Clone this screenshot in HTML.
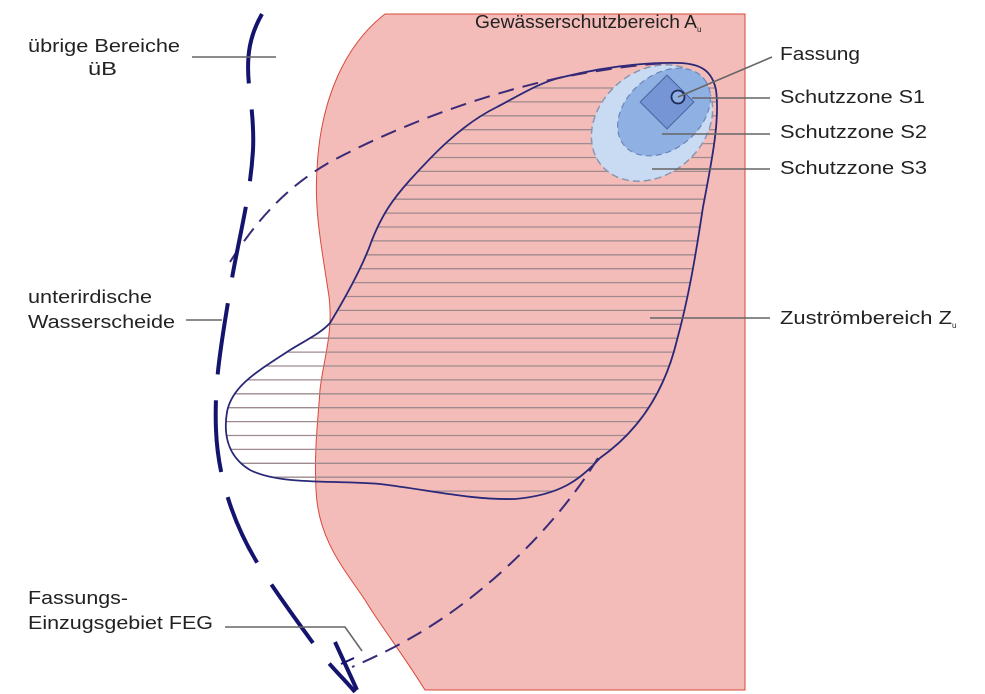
<!DOCTYPE html>
<html><head><meta charset="utf-8"><style>
html,body{margin:0;padding:0;background:#fff;}
svg{display:block;}
text{font-family:"Liberation Sans",Arial,sans-serif;font-size:18px;fill:#222;}
</style></head><body>
<svg width="985" height="694" viewBox="0 0 985 694" xmlns="http://www.w3.org/2000/svg">
<defs>
<clipPath id="blob"><path d="M330,323 C350,290 365,260 372,240 C382,215 392,200 410,180 C430,158 460,125 497,107 C520,95 540,82 563,77 C600,68 640,62 680,63 C700,64 712,70 716,90 C720,120 712,160 703,207 C695,260 688,300 677,340 C665,390 640,430 600,458 C580,480 560,495 515,499 C470,500 430,490 380,484 C330,480 280,485 250,470 C225,455 224,430 227,412 C232,385 260,370 290,350 C310,338 322,332 330,323 Z"/></clipPath>
</defs>
<path d="M385,14 L745,14 L745,690 L425,690 C400,650 380,625 365,600 C345,570 318,540 316,490 C314,450 318,420 320,390 C323,360 335,330 328,290 C322,250 314,210 317,170 C320,100 345,45 385,14 Z" fill="#f4bcb8" stroke="#d9483c" stroke-width="1"/>
<g clip-path="url(#blob)" stroke="#9e8a8e" stroke-width="1.3">
<line x1="200" x2="760" y1="88" y2="88"/><line x1="200" x2="760" y1="101.9" y2="101.9"/><line x1="200" x2="760" y1="115.8" y2="115.8"/><line x1="200" x2="760" y1="129.7" y2="129.7"/><line x1="200" x2="760" y1="143.6" y2="143.6"/><line x1="200" x2="760" y1="157.5" y2="157.5"/><line x1="200" x2="760" y1="171.4" y2="171.4"/><line x1="200" x2="760" y1="185.3" y2="185.3"/><line x1="200" x2="760" y1="199.2" y2="199.2"/><line x1="200" x2="760" y1="213.1" y2="213.1"/><line x1="200" x2="760" y1="227" y2="227"/><line x1="200" x2="760" y1="240.9" y2="240.9"/><line x1="200" x2="760" y1="254.8" y2="254.8"/><line x1="200" x2="760" y1="268.7" y2="268.7"/><line x1="200" x2="760" y1="282.6" y2="282.6"/><line x1="200" x2="760" y1="296.5" y2="296.5"/><line x1="200" x2="760" y1="310.4" y2="310.4"/><line x1="200" x2="760" y1="324.3" y2="324.3"/><line x1="200" x2="760" y1="338.2" y2="338.2"/><line x1="200" x2="760" y1="352.1" y2="352.1"/><line x1="200" x2="760" y1="366" y2="366"/><line x1="200" x2="760" y1="379.9" y2="379.9"/><line x1="200" x2="760" y1="393.8" y2="393.8"/><line x1="200" x2="760" y1="407.7" y2="407.7"/><line x1="200" x2="760" y1="421.6" y2="421.6"/><line x1="200" x2="760" y1="435.5" y2="435.5"/><line x1="200" x2="760" y1="449.4" y2="449.4"/><line x1="200" x2="760" y1="463.3" y2="463.3"/><line x1="200" x2="760" y1="477.2" y2="477.2"/><line x1="200" x2="760" y1="491.1" y2="491.1"/>
</g>
<ellipse cx="652" cy="123" rx="66" ry="52" transform="rotate(-40 652 123)" fill="#c9dbf3" stroke="#8a96b0" stroke-width="1.5" stroke-dasharray="7 4"/>
<ellipse cx="664" cy="112" rx="52" ry="37" transform="rotate(-40 664 112)" fill="#8fb0e3" stroke="#6b86b8" stroke-width="1.2" stroke-dasharray="6 4"/>
<rect x="648" y="83" width="38" height="38" transform="rotate(45 667 102)" fill="#7595d4" stroke="#4a64a0" stroke-width="1"/>
<circle cx="678" cy="97" r="6.5" fill="#8fb0e3" stroke="#1f2a5a" stroke-width="1.8"/>
<path d="M330,323 C350,290 365,260 372,240 C382,215 392,200 410,180 C430,158 460,125 497,107 C520,95 540,82 563,77 C600,68 640,62 680,63 C700,64 712,70 716,90 C720,120 712,160 703,207 C695,260 688,300 677,340 C665,390 640,430 600,458 C580,480 560,495 515,499 C470,500 430,490 380,484 C330,480 280,485 250,470 C225,455 224,430 227,412 C232,385 260,370 290,350 C310,338 322,332 330,323 Z" fill="none" stroke="#2a2878" stroke-width="1.8"/>
<path d="M230,262 C260,215 290,185 330,162 C400,125 480,95 563,77 C600,70 640,64 670,63" fill="none" stroke="#3a2a78" stroke-width="2" stroke-dasharray="16 9"/>
<path d="M598,458 C560,520 500,580 440,620 C410,640 380,655 352,667" fill="none" stroke="#3a2a78" stroke-width="2" stroke-dasharray="16 9"/>
<path d="M262,14 C250,35 246,55 249,85 C252,110 254,130 253,150 C250,200 238,240 230,290 C222,340 214,380 216,430 C218,480 235,530 265,575 C285,605 300,625 318,650 C332,668 345,680 355,692" fill="none" stroke="#14146e" stroke-width="4" stroke-dasharray="72 26"/>
<line x1="335" y1="642" x2="357" y2="690" stroke="#14146e" stroke-width="4"/>
<line x1="341" y1="664" x2="354" y2="658" stroke="#14146e" stroke-width="2"/>
<g stroke="#666" stroke-width="1.6" fill="none">
<line x1="192" y1="57" x2="276" y2="57"/>
<line x1="186" y1="320" x2="222" y2="320"/>
<polyline points="225,627 345,627 362,651"/>
<line x1="678" y1="97" x2="772" y2="57"/>
<line x1="692" y1="98" x2="770" y2="98"/>
<line x1="662" y1="134" x2="770" y2="134"/>
<line x1="652" y1="169" x2="770" y2="169"/>
<line x1="650" y1="318" x2="770" y2="318"/>
</g>
<text x="28" y="52" textLength="152" lengthAdjust="spacingAndGlyphs">übrige Bereiche</text>
<text x="88" y="75" textLength="29" lengthAdjust="spacingAndGlyphs">üB</text>
<text x="28" y="303" textLength="124" lengthAdjust="spacingAndGlyphs">unterirdische</text>
<text x="28" y="328" textLength="147" lengthAdjust="spacingAndGlyphs">Wasserscheide</text>
<text x="28" y="604" textLength="100" lengthAdjust="spacingAndGlyphs">Fassungs-</text>
<text x="28" y="629" textLength="185" lengthAdjust="spacingAndGlyphs">Einzugsgebiet FEG</text>
<text x="475" y="28" textLength="222" lengthAdjust="spacingAndGlyphs">Gewässerschutzbereich A</text>
<text x="697" y="32" style="font-size:8px">u</text>
<text x="780" y="60" textLength="80" lengthAdjust="spacingAndGlyphs">Fassung</text>
<text x="780" y="103" textLength="145" lengthAdjust="spacingAndGlyphs">Schutzzone S1</text>
<text x="780" y="138" textLength="147" lengthAdjust="spacingAndGlyphs">Schutzzone S2</text>
<text x="780" y="174" textLength="147" lengthAdjust="spacingAndGlyphs">Schutzzone S3</text>
<text x="780" y="324" textLength="172" lengthAdjust="spacingAndGlyphs">Zuströmbereich Z</text>
<text x="952" y="328" style="font-size:8px">u</text>
</svg>
</body></html>
